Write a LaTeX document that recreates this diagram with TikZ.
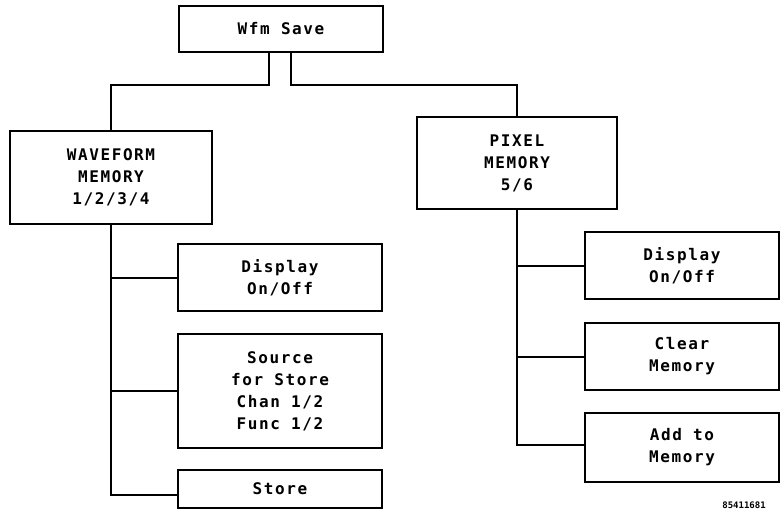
\documentclass[tikz,border=0pt]{standalone}
\usepackage{fontspec}
\newfontfamily\plotfont[LetterSpace=10]{DejaVu Sans Mono}
\newfontfamily\smallplot{DejaVu Sans Mono}
\begin{document}
\begin{tikzpicture}[x=1pt,y=-1pt,
  box/.style={draw,line width=2.4pt,inner sep=0pt,align=center,
    font=\plotfont\bfseries\fontsize{16}{22}\selectfont},
  conn/.style={line width=2pt}]
\useasboundingbox (0,0) rectangle (783,520);
\node[box,minimum width=204pt,minimum height=46pt] (wfm) at (281,29) {Wfm Save};
\node[box,minimum width=202pt,minimum height=93pt] (wf) at (111,177.5) {WAVEFORM\\MEMORY\\1/2/3/4};
\node[box,minimum width=200pt,minimum height=92pt] (pix) at (517,163) {PIXEL\\MEMORY\\5/6};
\node[box,minimum width=204pt,minimum height=67pt] (ldisp) at (280,277.5) {Display\\On/Off};
\node[box,minimum width=204pt,minimum height=114pt] (lsrc) at (280,391) {Source\\for Store\\Chan 1/2\\Func 1/2};
\node[box,minimum width=204pt,minimum height=38pt] (lstore) at (280,489) {Store};
\node[box,minimum width=194pt,minimum height=67pt] (rdisp) at (682,265.5) {Display\\On/Off};
\node[box,minimum width=194pt,minimum height=67pt] (rclr) at (682,356.5) {Clear\\Memory};
\node[box,minimum width=194pt,minimum height=69pt] (radd) at (682,447.5) {Add to\\Memory};
\node[font=\smallplot\bfseries\fontsize{9}{10}\selectfont,inner sep=0pt] (fig) at (744,505) {85411681};
\coordinate (jy) at (0,85);
\draw[conn] ([xshift=-12pt]wfm.south) -- ([xshift=-12pt]wfm.south |- jy) -| (wf.north);
\draw[conn] ([xshift=10pt]wfm.south) -- ([xshift=10pt]wfm.south |- jy) -| (pix.north);
\draw[conn] (wf.south) |- (ldisp.west);
\draw[conn] (wf.south) |- (lsrc.west);
\draw[conn] (wf.south) |- ([yshift=-6pt]lstore.west);
\draw[conn] (pix.south) |- (rdisp.west);
\draw[conn] (pix.south) |- (rclr.west);
\draw[conn] (pix.south) |- ([yshift=2.5pt]radd.west);
\end{tikzpicture}
\end{document}
